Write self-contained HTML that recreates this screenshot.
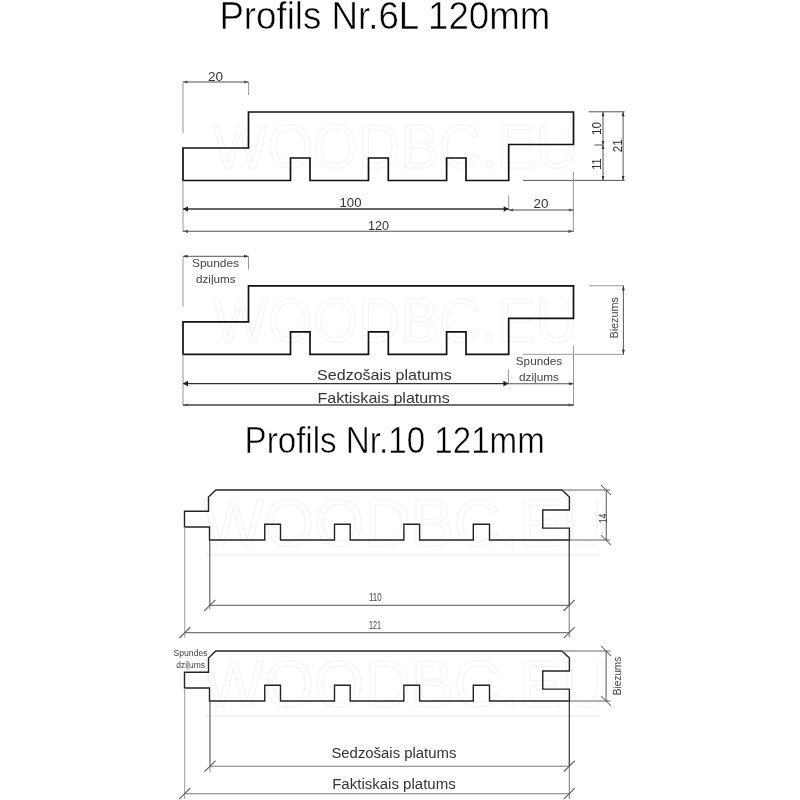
<!DOCTYPE html>
<html><head><meta charset="utf-8"><title>Profils</title>
<style>
html,body{margin:0;padding:0;background:#fff;width:800px;height:800px;overflow:hidden}
svg{display:block;will-change:transform}
text{font-family:"Liberation Sans", sans-serif}
</style></head><body>
<svg width="800" height="800" viewBox="0 0 800 800">
<rect width="800" height="800" fill="#fff"/>
<text x="213.00" y="168.00" font-size="63.00" fill="none" stroke="#f4f4f4" stroke-width="1.1" textLength="365.00" lengthAdjust="spacingAndGlyphs">WOODBC.EU</text>
<text x="213.00" y="342.00" font-size="63.00" fill="none" stroke="#f4f4f4" stroke-width="1.1" textLength="365.00" lengthAdjust="spacingAndGlyphs">WOODBC.EU</text>
<text x="203.00" y="546.00" font-size="66.00" fill="none" stroke="#f4f4f4" stroke-width="1.1" textLength="405.00" lengthAdjust="spacingAndGlyphs">WOODBC.EU</text>
<text x="203.00" y="707.00" font-size="66.00" fill="none" stroke="#f4f4f4" stroke-width="1.1" textLength="405.00" lengthAdjust="spacingAndGlyphs">WOODBC.EU</text>
<line x1="205" y1="555" x2="600" y2="555" stroke="#f5f5f5" stroke-width="3"/>
<line x1="205" y1="716" x2="600" y2="716" stroke="#f5f5f5" stroke-width="3"/>
<text x="219.40" y="28.5" font-size="38.2" fill="#000" stroke="#fff" stroke-width="0.55" textLength="331.00" lengthAdjust="spacingAndGlyphs">Profils Nr.6L 120mm</text>
<text x="244.60" y="453.3" font-size="37.8" fill="#000" stroke="#fff" stroke-width="0.55" textLength="300.20" lengthAdjust="spacingAndGlyphs">Profils Nr.10 121mm</text>
<path d="M183,180.50 L183,148.00 L248.5,148.00 L248.5,112.00 L573.5,112.00 L573.5,144.50 L508.7,144.50 L508.7,180.50 L466,180.50 L466,158.00 L446.6,158.00 L446.6,180.50 L388.3,180.50 L388.3,158.00 L368.5,158.00 L368.5,180.50 L310,180.50 L310,158.00 L290.5,158.00 L290.5,180.50 Z" fill="none" stroke="#111" stroke-width="1.7" stroke-linejoin="miter"/>
<path d="M183,354.30 L183,321.80 L248.5,321.80 L248.5,285.80 L573.5,285.80 L573.5,318.30 L508.7,318.30 L508.7,354.30 L466,354.30 L466,331.80 L446.6,331.80 L446.6,354.30 L388.3,354.30 L388.3,331.80 L368.5,331.80 L368.5,354.30 L310,354.30 L310,331.80 L290.5,331.80 L290.5,354.30 Z" fill="none" stroke="#111" stroke-width="1.7" stroke-linejoin="miter"/>
<line x1="183.00" y1="82.00" x2="248.60" y2="82.00" stroke="#555" stroke-width="1.00"/>
<polygon points="183.00,82.00 187.50,80.50 187.50,83.50" fill="#555"/>
<polygon points="248.60,82.00 244.10,80.50 244.10,83.50" fill="#555"/>
<line x1="183.00" y1="82.00" x2="183.00" y2="133.00" stroke="#999" stroke-width="1.00"/>
<line x1="248.60" y1="82.00" x2="248.60" y2="95.00" stroke="#999" stroke-width="1.00"/>
<text x="208.00" y="80.50" font-size="12.50" fill="#333" textLength="15.00" lengthAdjust="spacingAndGlyphs" >20</text>
<line x1="588.60" y1="111.80" x2="624.60" y2="111.80" stroke="#555" stroke-width="1.00"/>
<line x1="523.00" y1="180.40" x2="624.60" y2="180.40" stroke="#555" stroke-width="1.00"/>
<line x1="603.00" y1="111.80" x2="603.00" y2="180.40" stroke="#555" stroke-width="1.00"/>
<line x1="623.10" y1="111.80" x2="623.10" y2="180.40" stroke="#555" stroke-width="1.00"/>
<polygon points="603.00,111.80 601.60,116.30 604.40,116.30" fill="#333"/>
<polygon points="603.00,180.40 601.60,175.90 604.40,175.90" fill="#333"/>
<polygon points="623.10,111.80 621.70,116.30 624.50,116.30" fill="#333"/>
<polygon points="623.10,180.40 621.70,175.90 624.50,175.90" fill="#333"/>
<polygon points="603.00,145.00 601.60,141.00 604.40,141.00" fill="#333"/>
<polygon points="603.00,145.00 601.60,149.00 604.40,149.00" fill="#333"/>
<line x1="594.50" y1="145.00" x2="603.00" y2="145.00" stroke="#555" stroke-width="1.00"/>
<g transform="translate(596.40 128.40) rotate(-90.0)"><text x="0" y="4.50" font-size="12.50" fill="#333" text-anchor="middle" textLength="13.00" lengthAdjust="spacingAndGlyphs">10</text></g>
<g transform="translate(596.40 164.10) rotate(-90.0)"><text x="0" y="4.50" font-size="12.50" fill="#333" text-anchor="middle" textLength="11.20" lengthAdjust="spacingAndGlyphs">11</text></g>
<g transform="translate(617.50 145.80) rotate(-90.0)"><text x="0" y="4.50" font-size="12.50" fill="#333" text-anchor="middle" textLength="12.90" lengthAdjust="spacingAndGlyphs">21</text></g>
<line x1="183.00" y1="180.50" x2="183.00" y2="232.00" stroke="#999" stroke-width="1.00"/>
<line x1="573.40" y1="172.00" x2="573.40" y2="232.00" stroke="#999" stroke-width="1.00"/>
<line x1="508.70" y1="195.00" x2="508.70" y2="210.00" stroke="#999" stroke-width="1.00"/>
<line x1="183.00" y1="209.00" x2="508.70" y2="209.00" stroke="#333" stroke-width="1.30"/>
<polygon points="183.00,209.00 188.00,206.20 188.00,211.80" fill="#222"/>
<polygon points="508.70,209.00 503.70,206.20 503.70,211.80" fill="#222"/>
<text x="339.50" y="207.00" font-size="13.00" fill="#333" textLength="22.00" lengthAdjust="spacingAndGlyphs" >100</text>
<line x1="508.70" y1="210.00" x2="573.40" y2="210.00" stroke="#555" stroke-width="1.00"/>
<polygon points="573.40,210.00 568.90,208.50 568.90,211.50" fill="#555"/>
<polygon points="508.70,210.00 513.20,208.50 513.20,211.50" fill="#555"/>
<text x="533.50" y="208.00" font-size="13.00" fill="#333" textLength="15.00" lengthAdjust="spacingAndGlyphs" >20</text>
<line x1="183.00" y1="231.30" x2="573.40" y2="231.30" stroke="#555" stroke-width="1.10"/>
<polygon points="183.00,231.30 188.00,229.70 188.00,232.90" fill="#555"/>
<polygon points="573.40,231.30 568.40,229.70 568.40,232.90" fill="#555"/>
<text x="368.00" y="229.50" font-size="13.00" fill="#333" textLength="21.00" lengthAdjust="spacingAndGlyphs" >120</text>
<line x1="183.00" y1="256.30" x2="248.50" y2="256.30" stroke="#555" stroke-width="1.00"/>
<polygon points="183.00,256.30 187.50,254.80 187.50,257.80" fill="#333"/>
<polygon points="248.50,256.30 244.00,254.80 244.00,257.80" fill="#333"/>
<line x1="183.00" y1="256.30" x2="183.00" y2="306.70" stroke="#999" stroke-width="1.00"/>
<line x1="248.50" y1="256.30" x2="248.50" y2="269.50" stroke="#999" stroke-width="1.00"/>
<text x="192.00" y="266.80" font-size="10.50" fill="#444" textLength="47.00" lengthAdjust="spacingAndGlyphs" >Spundes</text>
<text x="196.00" y="282.70" font-size="10.50" fill="#444" textLength="39.70" lengthAdjust="spacingAndGlyphs" >dziļums</text>
<line x1="589.00" y1="285.75" x2="624.00" y2="285.75" stroke="#999" stroke-width="1.00"/>
<line x1="522.75" y1="354.35" x2="624.00" y2="354.35" stroke="#999" stroke-width="1.00"/>
<line x1="623.40" y1="285.75" x2="623.40" y2="354.35" stroke="#555" stroke-width="1.00"/>
<polygon points="623.40,285.75 622.00,290.25 624.80,290.25" fill="#333"/>
<polygon points="623.40,354.35 622.00,349.85 624.80,349.85" fill="#333"/>
<g transform="translate(614.00 317.80) rotate(-90.0)"><text x="0" y="3.96" font-size="11.00" fill="#444" text-anchor="middle" textLength="41.60" lengthAdjust="spacingAndGlyphs">Biezums</text></g>
<line x1="573.50" y1="346.00" x2="573.50" y2="405.60" stroke="#999" stroke-width="1.00"/>
<line x1="508.40" y1="369.40" x2="508.40" y2="383.75" stroke="#999" stroke-width="1.00"/>
<line x1="183.00" y1="354.30" x2="183.00" y2="405.60" stroke="#999" stroke-width="1.00"/>
<line x1="508.40" y1="383.75" x2="573.50" y2="383.75" stroke="#555" stroke-width="1.00"/>
<polygon points="573.50,383.75 569.00,382.25 569.00,385.25" fill="#333"/>
<text x="515.75" y="364.50" font-size="10.50" fill="#444" textLength="46.40" lengthAdjust="spacingAndGlyphs" >Spundes</text>
<text x="519.00" y="381.10" font-size="10.50" fill="#444" textLength="40.00" lengthAdjust="spacingAndGlyphs" >dziļums</text>
<line x1="183.00" y1="383.60" x2="508.40" y2="383.60" stroke="#333" stroke-width="1.30"/>
<polygon points="183.00,383.60 188.00,380.80 188.00,386.40" fill="#222"/>
<polygon points="508.40,383.60 503.40,380.80 503.40,386.40" fill="#222"/>
<text x="317.10" y="380.20" font-size="14.80" fill="#333" textLength="134.60" lengthAdjust="spacingAndGlyphs" >Sedzošais platums</text>
<line x1="183.00" y1="405.00" x2="573.50" y2="405.00" stroke="#444" stroke-width="1.30"/>
<polygon points="183.00,405.00 188.00,403.40 188.00,406.60" fill="#555"/>
<polygon points="573.50,405.00 568.50,403.40 568.50,406.60" fill="#555"/>
<text x="317.50" y="402.50" font-size="14.80" fill="#333" textLength="132.20" lengthAdjust="spacingAndGlyphs" >Faktiskais platums</text>
<path d="M215.80,490.00 L561.90,490.00 L569.40,497.00 L569.40,510.00 L542.75,510.00 L542.75,528.10 L569.40,528.10 L569.40,540.00 L489.50,540.00 L489.50,524.30 L473.30,524.30 L473.30,540.00 L419.60,540.00 L419.60,524.30 L403.85,524.30 L403.85,540.00 L350.20,540.00 L350.20,524.30 L334.50,524.30 L334.50,540.00 L280.50,540.00 L280.50,524.30 L264.75,524.30 L264.75,540.00 L209.50,540.00 L209.50,527.00 L184.50,527.00 L184.50,511.20 L208.50,511.20 L208.50,497.00 Z" fill="none" stroke="#222" stroke-width="1.4" stroke-linejoin="miter"/>
<path d="M215.80,651.00 L561.90,651.00 L569.40,658.00 L569.40,671.00 L542.75,671.00 L542.75,689.10 L569.40,689.10 L569.40,701.00 L489.50,701.00 L489.50,685.30 L473.30,685.30 L473.30,701.00 L419.60,701.00 L419.60,685.30 L403.85,685.30 L403.85,701.00 L350.20,701.00 L350.20,685.30 L334.50,685.30 L334.50,701.00 L280.50,701.00 L280.50,685.30 L264.75,685.30 L264.75,701.00 L209.50,701.00 L209.50,688.00 L184.50,688.00 L184.50,672.20 L208.50,672.20 L208.50,658.00 Z" fill="none" stroke="#222" stroke-width="1.4" stroke-linejoin="miter"/>
<line x1="561.90" y1="490.00" x2="610.00" y2="490.00" stroke="#666" stroke-width="1.00"/>
<line x1="569.40" y1="540.00" x2="610.00" y2="540.00" stroke="#666" stroke-width="1.00"/>
<line x1="606.25" y1="490.00" x2="606.25" y2="540.00" stroke="#555" stroke-width="1.00"/>
<line x1="601.00" y1="485.00" x2="611.00" y2="495.00" stroke="#555" stroke-width="1.05"/>
<line x1="601.00" y1="535.00" x2="611.00" y2="545.00" stroke="#555" stroke-width="1.05"/>
<g transform="translate(603.00 518.60) rotate(-90.0)"><text x="0" y="3.60" font-size="10.00" fill="#333" text-anchor="middle" textLength="9.50" lengthAdjust="spacingAndGlyphs">14</text></g>
<line x1="184.75" y1="527.00" x2="184.75" y2="637.50" stroke="#999" stroke-width="1.00"/>
<line x1="209.80" y1="540.00" x2="209.80" y2="605.40" stroke="#555" stroke-width="1.10"/>
<line x1="209.80" y1="605.40" x2="209.80" y2="609.60" stroke="#888" stroke-width="1.00"/>
<line x1="569.20" y1="540.00" x2="569.20" y2="605.40" stroke="#333" stroke-width="1.20"/>
<line x1="569.20" y1="605.40" x2="569.20" y2="637.30" stroke="#777" stroke-width="1.00"/>
<line x1="209.80" y1="605.40" x2="569.20" y2="605.40" stroke="#777" stroke-width="1.10"/>
<line x1="204.30" y1="610.90" x2="215.30" y2="599.90" stroke="#555" stroke-width="1.05"/>
<line x1="563.70" y1="610.90" x2="574.70" y2="599.90" stroke="#555" stroke-width="1.05"/>
<text x="368.90" y="600.80" font-size="10.00" fill="#444" textLength="12.80" lengthAdjust="spacingAndGlyphs" >110</text>
<line x1="184.75" y1="632.60" x2="569.20" y2="632.60" stroke="#777" stroke-width="1.10"/>
<line x1="179.25" y1="638.10" x2="190.25" y2="627.10" stroke="#555" stroke-width="1.05"/>
<line x1="563.70" y1="638.10" x2="574.70" y2="627.10" stroke="#555" stroke-width="1.05"/>
<text x="368.90" y="629.00" font-size="10.00" fill="#444" textLength="12.00" lengthAdjust="spacingAndGlyphs" >121</text>
<text x="173.40" y="656.10" font-size="8.30" fill="#444" textLength="34.30" lengthAdjust="spacingAndGlyphs" >Spundes</text>
<text x="176.20" y="667.60" font-size="8.30" fill="#444" textLength="28.80" lengthAdjust="spacingAndGlyphs" >dziļums</text>
<line x1="561.60" y1="651.00" x2="610.50" y2="651.00" stroke="#666" stroke-width="1.00"/>
<line x1="569.40" y1="701.00" x2="610.50" y2="701.00" stroke="#666" stroke-width="1.00"/>
<line x1="606.10" y1="651.00" x2="606.10" y2="701.00" stroke="#555" stroke-width="1.00"/>
<line x1="601.10" y1="646.00" x2="611.10" y2="656.00" stroke="#555" stroke-width="1.05"/>
<line x1="601.10" y1="696.00" x2="611.10" y2="706.00" stroke="#555" stroke-width="1.05"/>
<g transform="translate(617.20 676.00) rotate(-90.0)"><text x="0" y="3.78" font-size="10.50" fill="#444" text-anchor="middle" textLength="38.50" lengthAdjust="spacingAndGlyphs">Biezums</text></g>
<line x1="184.70" y1="688.00" x2="184.70" y2="799.00" stroke="#999" stroke-width="1.00"/>
<line x1="210.00" y1="701.00" x2="210.00" y2="766.20" stroke="#555" stroke-width="1.10"/>
<line x1="210.00" y1="766.20" x2="210.00" y2="772.00" stroke="#888" stroke-width="1.00"/>
<line x1="569.30" y1="701.00" x2="569.30" y2="766.20" stroke="#333" stroke-width="1.20"/>
<line x1="569.30" y1="766.20" x2="569.30" y2="799.00" stroke="#777" stroke-width="1.00"/>
<line x1="210.00" y1="766.20" x2="569.30" y2="766.20" stroke="#777" stroke-width="1.10"/>
<line x1="204.50" y1="771.70" x2="215.50" y2="760.70" stroke="#555" stroke-width="1.05"/>
<line x1="563.80" y1="771.70" x2="574.80" y2="760.70" stroke="#555" stroke-width="1.05"/>
<text x="331.40" y="758.10" font-size="14.00" fill="#333" textLength="125.00" lengthAdjust="spacingAndGlyphs" >Sedzošais platums</text>
<line x1="184.70" y1="793.70" x2="569.30" y2="793.70" stroke="#777" stroke-width="1.10"/>
<line x1="179.20" y1="799.20" x2="190.20" y2="788.20" stroke="#555" stroke-width="1.05"/>
<line x1="563.80" y1="799.20" x2="574.80" y2="788.20" stroke="#555" stroke-width="1.05"/>
<text x="332.20" y="789.10" font-size="14.00" fill="#333" textLength="123.50" lengthAdjust="spacingAndGlyphs" >Faktiskais platums</text>
</svg>
</body></html>
